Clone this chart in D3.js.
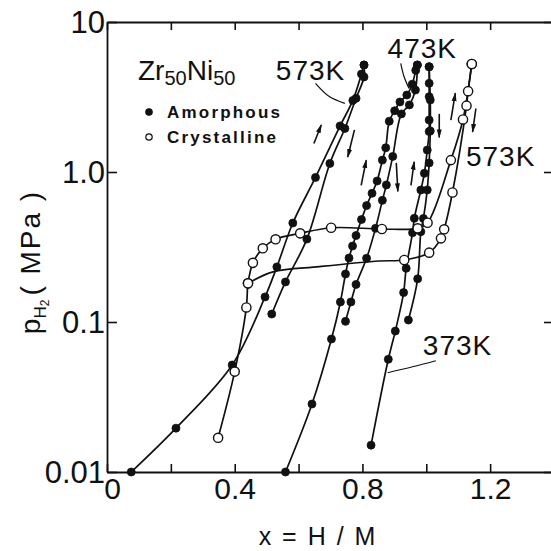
<!DOCTYPE html>
<html>
  <head>
    <script src="https://d3js.org/d3.v7.min.js"></script>
    <style>
      body { margin: 0; background: #fff; }
      text { font-family: "Liberation Sans", Arial, sans-serif; fill: #111; }
    </style>
  </head>
  <body>
    <script>
      // x = H/M, p in MPa
      var amo573Abs = [[0.076,0.010],[0.216,0.0196],[0.392,0.0517],[0.495,0.147],[0.532,0.233],[0.582,0.457],
                       [0.653,0.92],[0.73,2.03],[0.77,3.0],[0.797,4.5],[0.805,5.17]];
      var amo573Des = [[0.805,5.17],[0.805,4.3],[0.78,3.1],[0.745,1.95],[0.698,1.14],[0.626,0.357],
                       [0.559,0.185],[0.516,0.113]];
      var amo473Abs = [[0.559,0.010],[0.642,0.0284],[0.703,0.077],[0.731,0.136],[0.747,0.209],[0.758,0.267],
                       [0.769,0.321],[0.78,0.377],[0.797,0.482],[0.813,0.597],[0.83,0.721],[0.846,0.871],
                       [0.8625,1.2],[0.873,1.45],[0.884,2.18],[0.901,2.56],[0.9175,2.93],[0.939,3.26],
                       [0.956,3.85],[0.967,4.76],[0.972,5.17]];
      var amo473Des = [[0.972,5.17],[0.966,3.52],[0.947,2.8],[0.922,2.44],[0.895,1.27],[0.875,0.82],
                       [0.8625,0.647],[0.841,0.421],[0.813,0.266],[0.78,0.178],[0.764,0.136],[0.747,0.101]];
      var amo373Abs = [[0.827,0.0151],[0.881,0.0564],[0.903,0.087],[0.929,0.157],[0.937,0.228],[0.957,0.394],
                       [0.9625,0.491],[0.983,0.759],[0.994,0.98],[1.003,1.40],[1.009,1.86],[1.009,2.22],
                       [1.009,3.18],[1.009,3.9],[1.009,5.03]];
      var amo373Des = [[1.009,5.03],[1.0125,3.02],[1.0125,1.88],[1.009,1.15],[1.003,0.76],[0.991,0.49],
                       [0.983,0.40],[0.973,0.194],[0.944,0.103]];
      var cry573Abs = [[0.348,0.0169],[0.40,0.0467],[0.4365,0.125],[0.4416,0.181],[0.457,0.248],[0.488,0.31],
                       [0.528,0.356],[0.605,0.39],[0.702,0.425],[0.861,0.417],[0.973,0.421],[1.004,0.459],
                       [1.077,1.2],[1.115,2.24],[1.1425,5.25]];
      var cry573Des = [[1.1425,5.25],[1.131,3.46],[1.126,2.77],[1.082,0.73],[1.056,0.415],[1.046,0.361],
                       [1.009,0.29],[0.931,0.259],[0.4416,0.181]];
      var cry573DesLine = [[1.1425,5.25],[1.131,3.46],[1.126,2.77],[1.082,0.73],[1.056,0.415],[1.046,0.361],
                           [1.009,0.29],[0.931,0.259],[0.853,0.255],[0.666,0.234],[0.52,0.216],[0.4416,0.181]];

      var xTicks = [0, 0.2, 0.4, 0.6, 0.8, 1.0, 1.2, 1.4];
      var xLabels = {"0": "0", "0.4": "0.4", "0.8": "0.8", "1.2": "1.2"};
      var yTicks = [0.01, 0.1, 1, 10];
      var yLabels = ["0.01", "0.1", "1.0", "10"];

      // temperature labels and their leader lines (data coords)
      var tempLabels = [
        {text: "573K", at: [0.6375, 4.79]},
        {text: "473K", at: [0.9875, 6.71]},
        {text: "573K", at: [1.233, 1.28]},
        {text: "373K", at: [1.098, 0.0703]}
      ];
      var leaders = [
        [[0.653, 3.9], [0.695, 3.2], [0.745, 2.87]],
        [[0.92, 5.3], [0.93, 4.35], [0.946, 3.6]],
        [[1.03, 0.0552], [0.957, 0.0503], [0.879, 0.0459]]
      ];
      var arrows = [
        [[0.648,1.55],[0.671,2.06]], [[0.775,1.91],[0.754,1.26]],
        [[0.796,0.815],[0.812,1.20]], [[0.906,1.15],[0.911,0.743]],
        [[0.952,0.815],[0.962,1.17]], [[1.0406,2.44],[1.0406,1.70]],
        [[1.077,2.22],[1.091,3.35]], [[1.1553,2.65],[1.145,1.85]]
      ];

      var svg = d3.select("body").append("svg")
          .attr("width", 551)
          .attr("height", 551);

      var x = d3.scaleLinear().domain([0, 1.4]).range([107, 554]);
      var y = d3.scaleLog().domain([0.01, 10]).range([472, 22]);

      svg.append("defs").append("marker")
          .attr("id", "arr")
          .attr("markerUnits", "userSpaceOnUse")
          .attr("markerWidth", 9).attr("markerHeight", 6)
          .attr("refX", 8).attr("refY", 3)
          .attr("orient", "auto")
        .append("path")
          .attr("d", "M0,0.5 L9,3 L0,5.5 Z")
          .attr("fill", "#111");

      // frame + inward ticks
      function styleAxis(g) {
        g.select(".domain").attr("stroke", "#111").attr("stroke-width", 1.8);
        g.selectAll(".tick line").attr("stroke", "#111").attr("stroke-width", 1.6);
      }
      svg.append("g")
          .attr("transform", "translate(0,472)")
          .call(d3.axisBottom(x).tickValues(xTicks).tickSize(-8).tickSizeOuter(0).tickPadding(6)
                .tickFormat(function(d) { return xLabels[String(+d.toFixed(1))] || ""; }))
          .call(styleAxis)
          .selectAll("text")
          .attr("font-size", 30).attr("fill", "#111")
          .attr("dx", function(d) { return d === 0 ? 5 : 0; });
      svg.append("g")
          .attr("transform", "translate(0,22)")
          .call(d3.axisTop(x).tickValues(xTicks).tickSize(-8).tickSizeOuter(0).tickFormat(""))
          .call(styleAxis);
      svg.append("g")
          .attr("transform", "translate(107,0)")
          .call(d3.axisLeft(y).tickValues(yTicks).tickSize(-10).tickSizeOuter(0).tickPadding(2)
                .tickFormat(function(d, i) { return yLabels[i]; }))
          .call(styleAxis)
          .selectAll("text").attr("font-size", 31).attr("fill", "#111").attr("dy", "0.34em");
      svg.append("g")
          .attr("transform", "translate(554,0)")
          .call(d3.axisRight(y).tickValues(yTicks).tickSize(-10).tickSizeOuter(0).tickFormat(""))
          .call(styleAxis);

      // curves
      var line = d3.line()
          .x(function(d) { return x(d[0]); })
          .y(function(d) { return y(d[1]); })
          .curve(d3.curveCatmullRom.alpha(0.5));

      var series = [
        {pts: amo573Abs, filled: true}, {pts: amo573Des, filled: true},
        {pts: amo473Abs, filled: true}, {pts: amo473Des, filled: true},
        {pts: amo373Abs, filled: true}, {pts: amo373Des, filled: true},
        {pts: cry573Abs, filled: false}, {pts: cry573Des, path: cry573DesLine, filled: false}
      ];

      svg.selectAll(".curve")
          .data(series)
        .enter().append("path")
          .attr("class", "curve")
          .attr("d", function(s) { return line(s.path || s.pts); })
          .attr("fill", "none")
          .attr("stroke", "#111")
          .attr("stroke-width", 1.7);

      series.forEach(function(s) {
        svg.append("g").selectAll("circle")
            .data(s.pts)
          .enter().append("circle")
            .attr("cx", function(d) { return x(d[0]); })
            .attr("cy", function(d) { return y(d[1]); })
            .attr("r", s.filled ? 4 : 4.6)
            .attr("fill", s.filled ? "#111" : "#fff")
            .attr("stroke", "#111")
            .attr("stroke-width", s.filled ? 0.8 : 1.4);
      });

      // arrows
      svg.selectAll(".arrow")
          .data(arrows)
        .enter().append("line")
          .attr("class", "arrow")
          .attr("x1", function(d) { return x(d[0][0]); })
          .attr("y1", function(d) { return y(d[0][1]); })
          .attr("x2", function(d) { return x(d[1][0]); })
          .attr("y2", function(d) { return y(d[1][1]); })
          .attr("stroke", "#111")
          .attr("stroke-width", 1.6)
          .attr("marker-end", "url(#arr)");

      // leader lines + temperature labels
      var lead = d3.line()
          .x(function(d) { return x(d[0]); })
          .y(function(d) { return y(d[1]); })
          .curve(d3.curveCatmullRom);
      svg.selectAll(".leader")
          .data(leaders)
        .enter().append("path")
          .attr("class", "leader")
          .attr("d", lead)
          .attr("fill", "none")
          .attr("stroke", "#111")
          .attr("stroke-width", 1.2);

      svg.selectAll(".temp")
          .data(tempLabels)
        .enter().append("text")
          .attr("class", "temp")
          .attr("x", function(d) { return x(d.at[0]); })
          .attr("y", function(d) { return y(d.at[1]); })
          .attr("dy", "0.36em")
          .attr("text-anchor", "middle")
          .attr("font-size", 28)
          .attr("letter-spacing", 1)
          .text(function(d) { return d.text; });

      // alloy name and legend
      var alloy = svg.append("text")
          .attr("x", 138).attr("y", 80)
          .attr("font-size", 28);
      alloy.append("tspan").text("Zr");
      alloy.append("tspan").attr("font-size", 20).attr("dy", 5).text("50");
      alloy.append("tspan").attr("dy", -5).text("Ni");
      alloy.append("tspan").attr("font-size", 20).attr("dy", 5).text("50");

      var legend = [{label: "Amorphous", filled: true}, {label: "Crystalline", filled: false}];
      var lg = svg.selectAll(".legend")
          .data(legend)
        .enter().append("g")
          .attr("class", "legend")
          .attr("transform", function(d, i) { return "translate(149," + (112 + i * 25) + ")"; });
      lg.append("circle")
          .attr("r", 3.2)
          .attr("fill", function(d) { return d.filled ? "#111" : "#fff"; })
          .attr("stroke", "#111")
          .attr("stroke-width", 1.2);
      lg.append("text")
          .attr("x", 18).attr("y", 6)
          .attr("font-size", 17)
          .attr("font-weight", "bold")
          .attr("letter-spacing", 2.2)
          .text(function(d) { return d.label; });

      // axis titles
      svg.append("text")
          .attr("x", 318).attr("y", 545)
          .attr("text-anchor", "middle")
          .attr("font-size", 25)
          .attr("letter-spacing", 2)
          .text("x = H / M");

      var yt = svg.append("text")
          .attr("transform", "translate(40,262) rotate(-90)")
          .attr("text-anchor", "middle")
          .attr("font-size", 28);
      yt.append("tspan").text("p");
      yt.append("tspan").attr("font-size", 17).attr("dy", 6).text("H");
      yt.append("tspan").attr("font-size", 12).attr("dy", 3).text("2");
      yt.append("tspan").attr("dy", -9).attr("dx", 4).attr("letter-spacing", 2).text("( MPa )");
    </script>
  </body>
</html>
